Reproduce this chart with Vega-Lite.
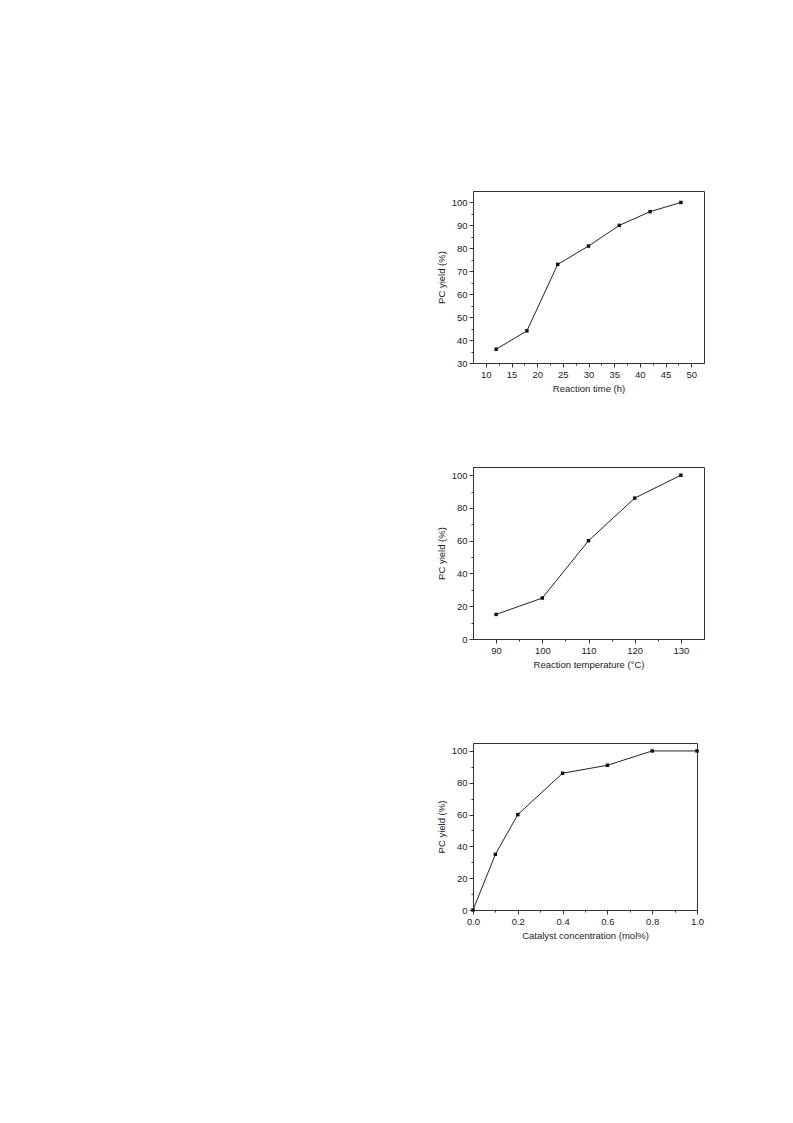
{
  "$schema": "https://vega.github.io/schema/vega-lite/v6.json",
  "background": "white",
  "padding": {"left": 435, "top": 190, "right": 10, "bottom": 10},
  "spacing": 72,
  "datasets": {
    "time": [
      {"t": 12, "y": 36}, {"t": 18, "y": 44}, {"t": 24, "y": 73}, {"t": 30, "y": 81},
      {"t": 36, "y": 90}, {"t": 42, "y": 96}, {"t": 48, "y": 100}
    ],
    "temp": [
      {"T": 90, "y": 15}, {"T": 100, "y": 25}, {"T": 110, "y": 60}, {"T": 120, "y": 86}, {"T": 130, "y": 100}
    ],
    "cat": [
      {"c": 0.0, "y": 0}, {"c": 0.1, "y": 35}, {"c": 0.2, "y": 60}, {"c": 0.4, "y": 86},
      {"c": 0.6, "y": 91}, {"c": 0.8, "y": 100}, {"c": 1.0, "y": 100}
    ]
  },
  "config": {
    "font": "Liberation Sans",
    "view": {"stroke": "#333", "strokeWidth": 1},
    "axis": {
      "grid": false,
      "labelFont": "Liberation Sans",
      "titleFont": "Liberation Sans",
      "labelFontSize": 9.5,
      "titleFontSize": 9.5,
      "titleFontWeight": "normal",
      "labelColor": "#222",
      "titleColor": "#222",
      "domainColor": "#333",
      "tickColor": "#333",
      "labelPadding": 2,
      "titlePadding": 5,
      "labelOverlap": false,
      "labelFlush": false
    }
  },
  "vconcat": [
    {
      "width": 231,
      "height": 172,
      "data": {"name": "time"},
      "mark": {"type": "line", "color": "#222", "strokeWidth": 1, "point": {"shape": "square", "size": 12, "filled": true, "color": "#111"}},
      "encoding": {
        "x": {"field": "t", "type": "quantitative", "title": "Reaction time (h)",
          "scale": {"domain": [7.5, 52.5], "nice": false, "zero": false},
          "axis": {"values": [10, 12.5, 15, 17.5, 20, 22.5, 25, 27.5, 30, 32.5, 35, 37.5, 40, 42.5, 45, 47.5, 50],
            "labelExpr": "datum.value % 5 == 0 ? datum.label : ''",
            "tickSize": {"condition": {"test": "datum.value % 5 != 0", "value": 2}, "value": 4}}},
        "y": {"field": "y", "type": "quantitative", "title": "PC yield (%)",
          "scale": {"domain": [30, 105], "nice": false, "zero": false},
          "axis": {"values": [30, 35, 40, 45, 50, 55, 60, 65, 70, 75, 80, 85, 90, 95, 100],
            "labelExpr": "datum.value % 10 == 0 ? datum.label : ''",
            "tickSize": {"condition": {"test": "datum.value % 10 != 0", "value": 2}, "value": 4}}}
      }
    },
    {
      "width": 231,
      "height": 172,
      "data": {"name": "temp"},
      "mark": {"type": "line", "color": "#222", "strokeWidth": 1, "point": {"shape": "square", "size": 12, "filled": true, "color": "#111"}},
      "encoding": {
        "x": {"field": "T", "type": "quantitative", "title": "Reaction temperature (°C)",
          "scale": {"domain": [85, 135], "nice": false, "zero": false},
          "axis": {"values": [90, 95, 100, 105, 110, 115, 120, 125, 130],
            "labelExpr": "datum.value % 10 == 0 ? datum.label : ''",
            "tickSize": {"condition": {"test": "datum.value % 10 != 0", "value": 2}, "value": 4}}},
        "y": {"field": "y", "type": "quantitative", "title": "PC yield (%)",
          "scale": {"domain": [0, 105], "nice": false},
          "axis": {"values": [0, 10, 20, 30, 40, 50, 60, 70, 80, 90, 100],
            "labelExpr": "datum.value % 20 == 0 ? datum.label : ''",
            "tickSize": {"condition": {"test": "datum.value % 20 != 0", "value": 2}, "value": 4}}}
      }
    },
    {
      "width": 224,
      "height": 167,
      "data": {"name": "cat"},
      "mark": {"type": "line", "color": "#222", "strokeWidth": 1, "point": {"shape": "square", "size": 12, "filled": true, "color": "#111"}},
      "encoding": {
        "x": {"field": "c", "type": "quantitative", "title": "Catalyst concentration (mol%)",
          "scale": {"domain": [0, 1], "nice": false},
          "axis": {"values": [0, 0.1, 0.2, 0.3, 0.4, 0.5, 0.6, 0.7, 0.8, 0.9, 1.0],
            "format": ".1f",
            "labelExpr": "round(datum.value * 10) % 2 == 0 ? datum.label : ''",
            "tickSize": {"condition": {"test": "round(datum.value * 10) % 2 == 1", "value": 2}, "value": 4}}},
        "y": {"field": "y", "type": "quantitative", "title": "PC yield (%)",
          "scale": {"domain": [0, 105], "nice": false},
          "axis": {"values": [0, 10, 20, 30, 40, 50, 60, 70, 80, 90, 100],
            "labelExpr": "datum.value % 20 == 0 ? datum.label : ''",
            "tickSize": {"condition": {"test": "datum.value % 20 != 0", "value": 2}, "value": 4}}}
      }
    }
  ]
}
